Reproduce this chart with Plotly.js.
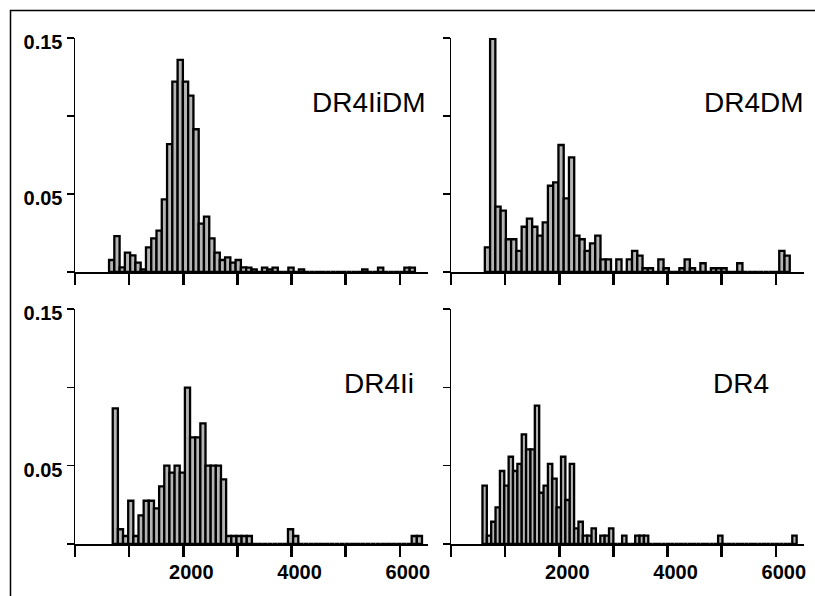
<!DOCTYPE html>
<html>
<head>
<meta charset="utf-8">
<script src="https://cdn.plot.ly/plotly-3.0.1.min.js"></script>
<style>html,body{margin:0;padding:0;background:#fff;}#chart{width:815px;height:596px;}</style>
</head>
<body>
<div id="chart"></div>
<script>
// ---- data (relative frequency per bin) ----
const panelNames = ["DR4IiDM", "DR4DM", "DR4Ii", "DR4"];

// bin definitions (first bin left edge, bin width)
const binStartTL = 629, binWidthTL = 97.4;
const binStartTR = 625, binWidthTR = 97.1;
const binStartBL = 697, binWidthBL = 95.2;
const binStartBR = 581, binWidthBR = 80.6;

const valuesTL = [0.0077, 0.023, 0.003, 0.0124, 0.0107, 0.006, 0.0017, 0.0158, 0.0216, 0.0265,
  0.0466, 0.082, 0.122, 0.136, 0.122, 0.113, 0.0915, 0.031, 0.0355, 0.0216,
  0.0124, 0.0077, 0.0094, 0.006, 0.0077, 0.003, 0.0028, 0.0017, 0, 0.0028,
  0.0017, 0.0028, 0, 0, 0.0028, 0, 0.0017, 0, 0, 0,
  0, 0, 0, 0, 0, 0, 0, 0, 0.0017, 0,
  0, 0.0028, 0, 0, 0, 0, 0.0028, 0.0028];

const valuesTR = [0.0158, 0.1495, 0.0419, 0.0393, 0.021, 0.021, 0.0135, 0.029, 0.0342, 0.029,
  0.0233, 0.0318, 0.0553, 0.0575, 0.0814, 0.0472, 0.0735, 0.0233, 0.021, 0.0135,
  0.0184, 0.0233, 0.0081, 0.0081, 0, 0.0081, 0, 0.0081, 0.0135, 0.0105,
  0.0024, 0.0024, 0, 0.0081, 0.0024, 0, 0, 0.0024, 0.0081, 0.0024,
  0, 0.0056, 0, 0.0024, 0.0024, 0.0024, 0, 0, 0.0056, 0,
  0, 0, 0, 0, 0, 0, 0.0135, 0.0105];

const valuesBL = [0.0866, 0.0094, 0.0051, 0.0276, 0.0051, 0.0183, 0.0276, 0.0276, 0.0228, 0.0368,
  0.050, 0.0455, 0.050, 0.0455, 0.0998, 0.068, 0.068, 0.077, 0.050, 0.050,
  0.050, 0.0413, 0.0051, 0.0051, 0.0051, 0.0051, 0.0051, 0, 0, 0,
  0, 0, 0, 0, 0.0094, 0.0051, 0, 0, 0, 0,
  0, 0, 0, 0, 0, 0, 0, 0, 0, 0,
  0, 0, 0, 0, 0, 0, 0, 0, 0.0051, 0.0051];

const valuesBR = [0.0372, 0.0053, 0.0142, 0.0234, 0.0466, 0.0372, 0.0557, 0.0466, 0.0512, 0.070,
  0.0604, 0.0604, 0.0883, 0.0327, 0.0372, 0.0512, 0.0417, 0.0234, 0.0557, 0.0281,
  0.0512, 0.010, 0.0142, 0.0053, 0.0053, 0.010, 0, 0.0053, 0.0053, 0.010,
  0, 0, 0.0053, 0, 0, 0.0053, 0.0053, 0.0053, 0, 0,
  0, 0, 0, 0, 0, 0, 0, 0, 0, 0,
  0, 0, 0, 0, 0.0053, 0, 0, 0, 0, 0,
  0, 0, 0, 0, 0, 0, 0, 0, 0, 0,
  0, 0.0053];

const xTickVals = [0, 1000, 2000, 3000, 4000, 5000, 6000];
const xTickText = ["", "", "2000", "", "4000", "", "6000"];
const yTickVals = [0, 0.05, 0.10, 0.15];
const yTickText = ["", "0.05", "", "0.15"];

// ---- layout helpers ----
const W = 815, H = 596;
const fx = p => p / W;
const fy = p => 1 - p / H;

const barStyle = {color: "#b4b4b4", line: {color: "#000", width: 2.3}};
function barTrace(vals, start, width, xa, ya) {
  return {type: "bar", y: vals, x0: start + width / 2, dx: width, width: width,
    xaxis: xa, yaxis: ya, marker: barStyle, hoverinfo: "skip", showlegend: false};
}

const traces = [
  barTrace(valuesTL, binStartTL, binWidthTL, "x", "y"),
  barTrace(valuesTR, binStartTR, binWidthTR, "x2", "y2"),
  barTrace(valuesBL, binStartBL, binWidthBL, "x3", "y3"),
  barTrace(valuesBR, binStartBR, binWidthBR, "x4", "y4")
];

const tickFont = {family: "Liberation Sans, Arial, sans-serif", size: 20, color: "#000", weight: "bold"};

function xAxis(dom, anchor, labels) {
  return {domain: dom, anchor: anchor, range: [0, 6520], tickmode: "array",
    tickvals: xTickVals, ticktext: xTickText, showticklabels: labels,
    ticks: "outside", ticklen: 11, tickwidth: 2.5, tickcolor: "#000",
    showline: true, linecolor: "#000", linewidth: 2, showgrid: false, zeroline: false,
    tickfont: tickFont, ticklabelshift: 8, ticklabelstandoff: -2, fixedrange: true};
}
function yAxis(dom, anchor, labels) {
  return {domain: dom, anchor: anchor, range: [0, 0.15], tickmode: "array",
    tickvals: yTickVals, ticktext: yTickText, showticklabels: labels,
    ticks: "outside", ticklen: 7, tickwidth: 1.5, tickcolor: "#000",
    showline: true, linecolor: "#000", linewidth: 1.5, showgrid: false, zeroline: false,
    tickfont: tickFont, ticklabelshift: 4, fixedrange: true};
}

const leftDom = [fx(75), fx(428)];
const rightDom = [fx(451), fx(804)];
const topDom = [fy(272), fy(38)];
const botDom = [fy(544), fy(309)];

const labelFont = {family: "Liberation Sans, Arial, sans-serif", size: 28, color: "#000"};
function label(text, xr, yc) {
  return {text: text, xref: "paper", yref: "paper", x: fx(xr), y: fy(yc),
    xanchor: "right", yanchor: "middle", showarrow: false, font: labelFont};
}

const layout = {
  width: W, height: H,
  margin: {l: 0, r: 0, t: 0, b: 0, pad: 0},
  paper_bgcolor: "#fff", plot_bgcolor: "rgba(0,0,0,0)",
  showlegend: false,
  xaxis: xAxis(leftDom, "y", false),
  yaxis: yAxis(topDom, "x", true),
  xaxis2: xAxis(rightDom, "y2", false),
  yaxis2: yAxis(topDom, "x2", false),
  xaxis3: xAxis(leftDom, "y3", true),
  yaxis3: yAxis(botDom, "x3", true),
  xaxis4: xAxis(rightDom, "y4", true),
  yaxis4: yAxis(botDom, "x4", false),
  annotations: [
    label(panelNames[0], 428, 103),
    label(panelNames[1], 806, 103),
    label(panelNames[2], 416, 383),
    label(panelNames[3], 771, 383)
  ],
  shapes: [{type: "rect", xref: "paper", yref: "paper",
    x0: fx(10.5), x1: 1.05, y0: -0.05, y1: fy(10.5),
    line: {color: "#000", width: 1.5}, fillcolor: "rgba(0,0,0,0)"}]
};

Plotly.newPlot("chart", traces, layout, {staticPlot: true, displayModeBar: false});
</script>
</body>
</html>
